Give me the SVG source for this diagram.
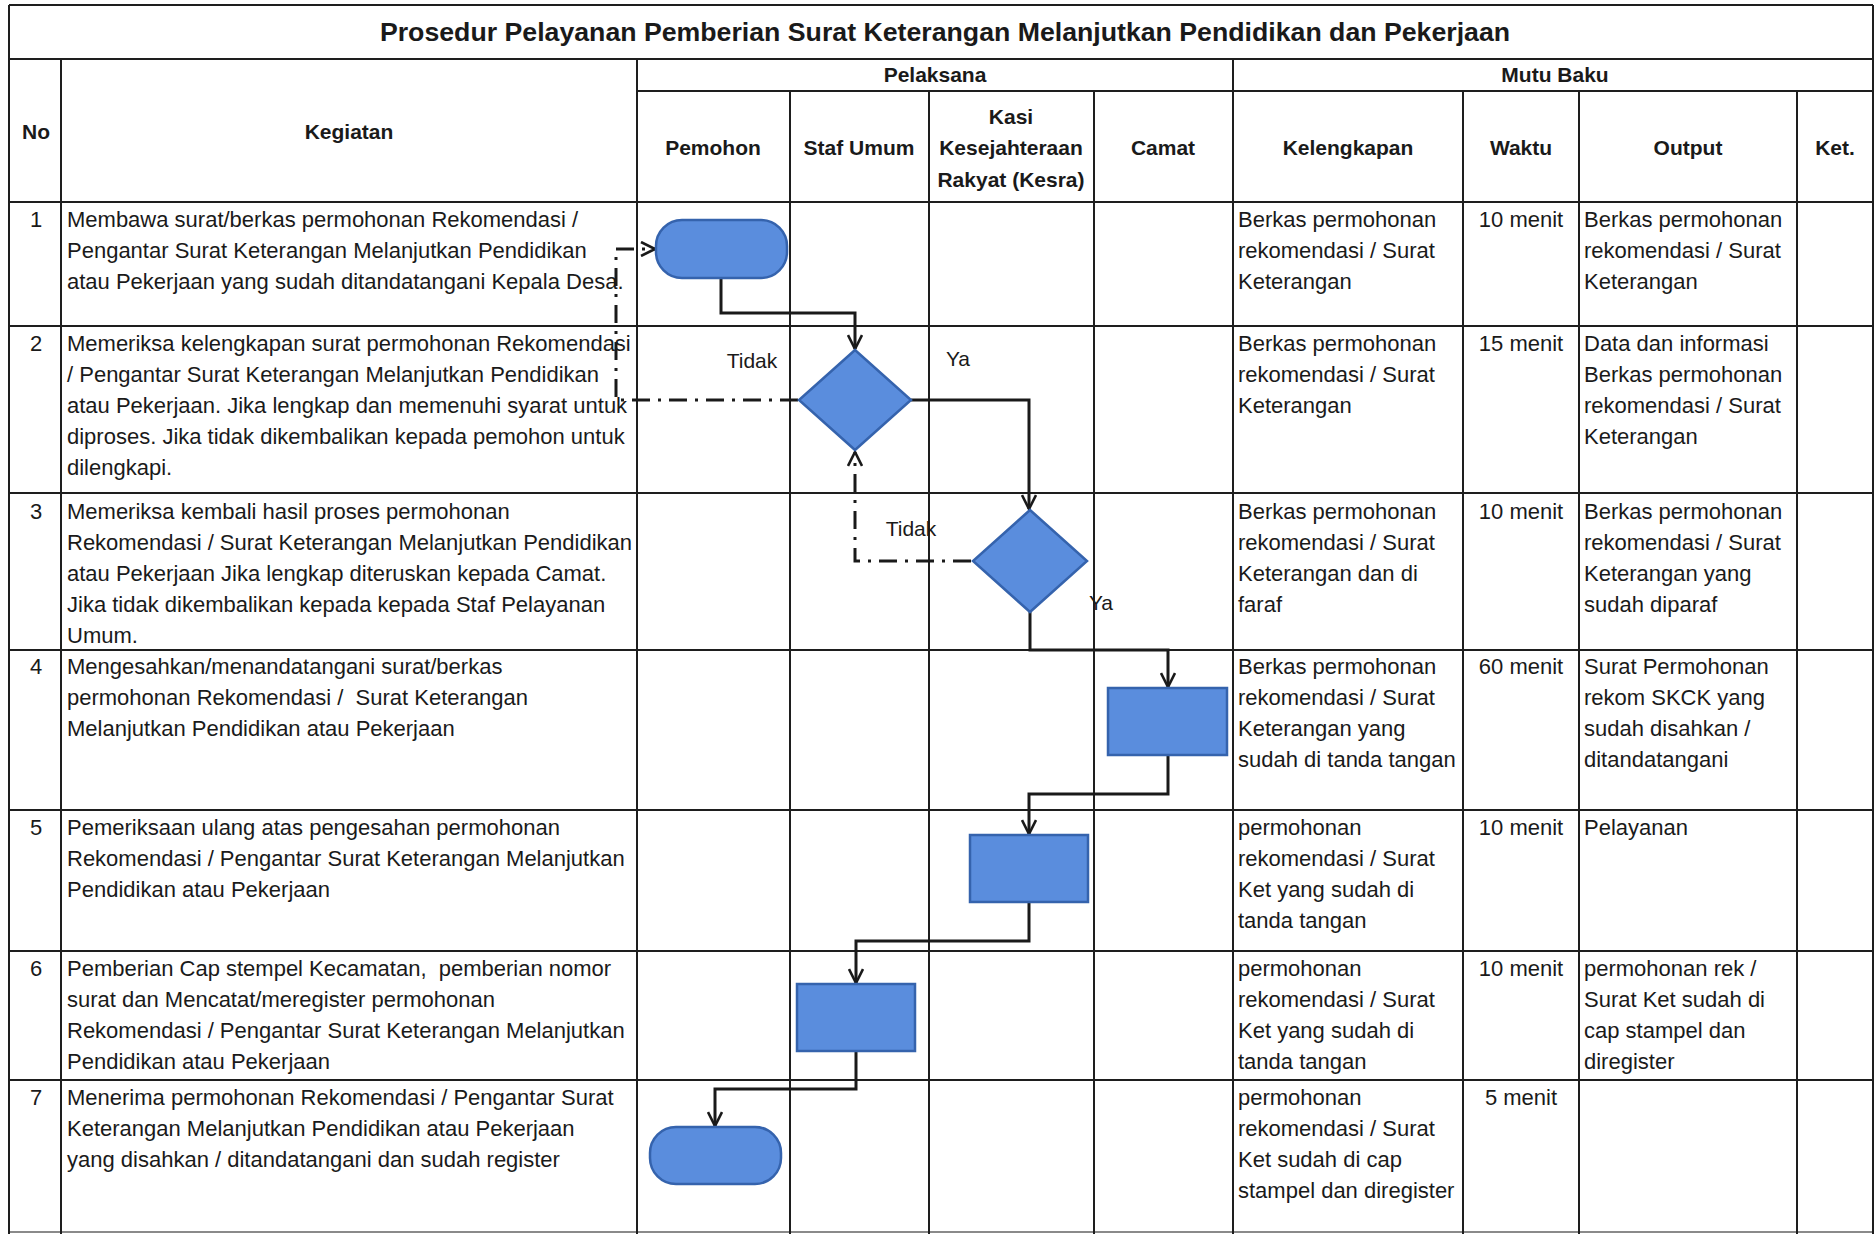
<svg xmlns="http://www.w3.org/2000/svg" width="1876" height="1234" viewBox="0 0 1876 1234">
<style>
.g line{stroke:#1e1e1e;stroke-width:2}
text{font-family:"Liberation Sans",Arial,sans-serif;fill:#1a1a1a}
.t{font-size:22px}
.c{text-anchor:middle}
.h{font-size:21px;font-weight:bold;text-anchor:middle}
.title{font-size:26.7px;font-weight:bold;text-anchor:middle}
.lbl{font-size:21px}
.shape{fill:#5a8ddd;stroke:#3563ad;stroke-width:2.5}
.conn{fill:none;stroke:#1a1a1a;stroke-width:3}
.dd{stroke-dasharray:18 8 3 8}
</style>
<defs>
<marker id="arr" viewBox="0 0 16 16" refX="15" refY="8" markerWidth="16" markerHeight="16" markerUnits="userSpaceOnUse" orient="auto">
<path d="M1,1 L15,8 L1,15" fill="none" stroke="#1a1a1a" stroke-width="2.6"/>
</marker>
</defs>
<rect width="1876" height="1234" fill="#ffffff"/>
<g id="table" class="g">
<line x1="9" y1="5" x2="1873" y2="5"/>
<line x1="9" y1="59" x2="1873" y2="59"/>
<line x1="637" y1="91" x2="1873" y2="91"/>
<line x1="9" y1="202" x2="1873" y2="202"/>
<line x1="9" y1="326" x2="1873" y2="326"/>
<line x1="9" y1="493" x2="1873" y2="493"/>
<line x1="9" y1="650" x2="1873" y2="650"/>
<line x1="9" y1="810" x2="1873" y2="810"/>
<line x1="9" y1="951" x2="1873" y2="951"/>
<line x1="9" y1="1080" x2="1873" y2="1080"/>
<line x1="9" y1="1232" x2="1873" y2="1232" style="stroke:#8a8a8a"/>
<line x1="9" y1="5" x2="9" y2="1234"/>
<line x1="1873" y1="5" x2="1873" y2="1234"/>
<line x1="61" y1="59" x2="61" y2="1234"/>
<line x1="637" y1="59" x2="637" y2="1234"/>
<line x1="1233" y1="59" x2="1233" y2="1234"/>
<line x1="790" y1="91" x2="790" y2="1234"/>
<line x1="929" y1="91" x2="929" y2="1234"/>
<line x1="1094" y1="91" x2="1094" y2="1234"/>
<line x1="1463" y1="91" x2="1463" y2="1234"/>
<line x1="1579" y1="91" x2="1579" y2="1234"/>
<line x1="1797" y1="91" x2="1797" y2="1234"/>
</g>
<g id="header">
<text class="title" x="945" y="41">Prosedur Pelayanan Pemberian Surat Keterangan Melanjutkan Pendidikan dan Pekerjaan</text>
<text class="h" x="36" y="139">No</text>
<text class="h" x="349" y="139">Kegiatan</text>
<text class="h" x="935" y="82">Pelaksana</text>
<text class="h" x="1555" y="82">Mutu Baku</text>
<text class="h" x="713" y="155">Pemohon</text>
<text class="h" x="859" y="155">Staf Umum</text>
<text class="h" x="1011" y="124">Kasi</text>
<text class="h" x="1011" y="155">Kesejahteraan</text>
<text class="h" x="1011" y="187">Rakyat (Kesra)</text>
<text class="h" x="1163" y="155">Camat</text>
<text class="h" x="1348" y="155">Kelengkapan</text>
<text class="h" x="1521" y="155">Waktu</text>
<text class="h" x="1688" y="155">Output</text>
<text class="h" x="1835" y="155">Ket.</text>
</g>
<g id="row1" class="t">
<text class="t c" x="36" y="227">1</text>
<text class="t" x="67" y="227"><tspan x="67">Membawa surat/berkas permohonan Rekomendasi /</tspan><tspan x="67" dy="31">Pengantar Surat Keterangan Melanjutkan Pendidikan</tspan><tspan x="67" dy="31">atau Pekerjaan yang sudah ditandatangani Kepala Desa.</tspan></text>
<text class="t" x="1238" y="227"><tspan x="1238">Berkas permohonan</tspan><tspan x="1238" dy="31">rekomendasi / Surat</tspan><tspan x="1238" dy="31">Keterangan</tspan></text>
<text class="t c" x="1521" y="227">10 menit</text>
<text class="t" x="1584" y="227"><tspan x="1584">Berkas permohonan</tspan><tspan x="1584" dy="31">rekomendasi / Surat</tspan><tspan x="1584" dy="31">Keterangan</tspan></text>
</g>
<g id="row2">
<text class="t c" x="36" y="351">2</text>
<text class="t" x="67" y="351"><tspan x="67">Memeriksa kelengkapan surat permohonan Rekomendasi</tspan><tspan x="67" dy="31">/ Pengantar Surat Keterangan Melanjutkan Pendidikan</tspan><tspan x="67" dy="31">atau Pekerjaan. Jika lengkap dan memenuhi syarat untuk</tspan><tspan x="67" dy="31">diproses. Jika tidak dikembalikan kepada pemohon untuk</tspan><tspan x="67" dy="31">dilengkapi.</tspan></text>
<text class="t" x="1238" y="351"><tspan x="1238">Berkas permohonan</tspan><tspan x="1238" dy="31">rekomendasi / Surat</tspan><tspan x="1238" dy="31">Keterangan</tspan></text>
<text class="t c" x="1521" y="351">15 menit</text>
<text class="t" x="1584" y="351"><tspan x="1584">Data dan informasi</tspan><tspan x="1584" dy="31">Berkas permohonan</tspan><tspan x="1584" dy="31">rekomendasi / Surat</tspan><tspan x="1584" dy="31">Keterangan</tspan></text>
</g>
<g id="row3">
<text class="t c" x="36" y="519">3</text>
<text class="t" x="67" y="519"><tspan x="67">Memeriksa kembali hasil proses permohonan</tspan><tspan x="67" dy="31">Rekomendasi / Surat Keterangan Melanjutkan Pendidikan</tspan><tspan x="67" dy="31">atau Pekerjaan Jika lengkap diteruskan kepada Camat.</tspan><tspan x="67" dy="31">Jika tidak dikembalikan kepada kepada Staf Pelayanan</tspan><tspan x="67" dy="31">Umum.</tspan></text>
<text class="t" x="1238" y="519"><tspan x="1238">Berkas permohonan</tspan><tspan x="1238" dy="31">rekomendasi / Surat</tspan><tspan x="1238" dy="31">Keterangan dan di</tspan><tspan x="1238" dy="31">faraf</tspan></text>
<text class="t c" x="1521" y="519">10 menit</text>
<text class="t" x="1584" y="519"><tspan x="1584">Berkas permohonan</tspan><tspan x="1584" dy="31">rekomendasi / Surat</tspan><tspan x="1584" dy="31">Keterangan yang</tspan><tspan x="1584" dy="31">sudah diparaf</tspan></text>
</g>
<g id="row4">
<text class="t c" x="36" y="674">4</text>
<text class="t" x="67" y="674" xml:space="preserve"><tspan x="67">Mengesahkan/menandatangani surat/berkas</tspan><tspan x="67" dy="31">permohonan Rekomendasi /  Surat Keterangan</tspan><tspan x="67" dy="31">Melanjutkan Pendidikan atau Pekerjaan</tspan></text>
<text class="t" x="1238" y="674"><tspan x="1238">Berkas permohonan</tspan><tspan x="1238" dy="31">rekomendasi / Surat</tspan><tspan x="1238" dy="31">Keterangan yang</tspan><tspan x="1238" dy="31">sudah di tanda tangan</tspan></text>
<text class="t c" x="1521" y="674">60 menit</text>
<text class="t" x="1584" y="674"><tspan x="1584">Surat Permohonan</tspan><tspan x="1584" dy="31">rekom SKCK yang</tspan><tspan x="1584" dy="31">sudah disahkan /</tspan><tspan x="1584" dy="31">ditandatangani</tspan></text>
</g>
<g id="row5">
<text class="t c" x="36" y="835">5</text>
<text class="t" x="67" y="835"><tspan x="67">Pemeriksaan ulang atas pengesahan permohonan</tspan><tspan x="67" dy="31">Rekomendasi / Pengantar Surat Keterangan Melanjutkan</tspan><tspan x="67" dy="31">Pendidikan atau Pekerjaan</tspan></text>
<text class="t" x="1238" y="835"><tspan x="1238">permohonan</tspan><tspan x="1238" dy="31">rekomendasi / Surat</tspan><tspan x="1238" dy="31">Ket yang sudah di</tspan><tspan x="1238" dy="31">tanda tangan</tspan></text>
<text class="t c" x="1521" y="835">10 menit</text>
<text class="t" x="1584" y="835">Pelayanan</text>
</g>
<g id="row6">
<text class="t c" x="36" y="976">6</text>
<text class="t" x="67" y="976" xml:space="preserve"><tspan x="67">Pemberian Cap stempel Kecamatan,  pemberian nomor</tspan><tspan x="67" dy="31">surat dan Mencatat/meregister permohonan</tspan><tspan x="67" dy="31">Rekomendasi / Pengantar Surat Keterangan Melanjutkan</tspan><tspan x="67" dy="31">Pendidikan atau Pekerjaan</tspan></text>
<text class="t" x="1238" y="976"><tspan x="1238">permohonan</tspan><tspan x="1238" dy="31">rekomendasi / Surat</tspan><tspan x="1238" dy="31">Ket yang sudah di</tspan><tspan x="1238" dy="31">tanda tangan</tspan></text>
<text class="t c" x="1521" y="976">10 menit</text>
<text class="t" x="1584" y="976"><tspan x="1584">permohonan rek /</tspan><tspan x="1584" dy="31">Surat Ket sudah di</tspan><tspan x="1584" dy="31">cap stampel dan</tspan><tspan x="1584" dy="31">diregister</tspan></text>
</g>
<g id="row7">
<text class="t c" x="36" y="1105">7</text>
<text class="t" x="67" y="1105"><tspan x="67">Menerima permohonan Rekomendasi / Pengantar Surat</tspan><tspan x="67" dy="31">Keterangan Melanjutkan Pendidikan atau Pekerjaan</tspan><tspan x="67" dy="31">yang disahkan / ditandatangani dan sudah register</tspan></text>
<text class="t" x="1238" y="1105"><tspan x="1238">permohonan</tspan><tspan x="1238" dy="31">rekomendasi / Surat</tspan><tspan x="1238" dy="31">Ket sudah di cap</tspan><tspan x="1238" dy="31">stampel dan diregister</tspan></text>
<text class="t c" x="1521" y="1105">5 menit</text>
</g>
<g id="connectors">
<path class="conn" d="M721,278 V313 H855 V349" marker-end="url(#arr)"/>
<path class="conn" d="M911,400 H1029 V509" marker-end="url(#arr)"/>
<path class="conn dd" d="M798,400 H616 V249 H655" marker-end="url(#arr)"/>
<path class="conn dd" d="M971,561 H855 V452" marker-end="url(#arr)"/>
<path class="conn" d="M1030,612 V650 H1168 V687" marker-end="url(#arr)"/>
<path class="conn" d="M1168,756 V794 H1029 V834" marker-end="url(#arr)"/>
<path class="conn" d="M1029,902 V941 H856 V983" marker-end="url(#arr)"/>
<path class="conn" d="M856,1051 V1089 H715 V1126" marker-end="url(#arr)"/>
<text class="lbl c" x="752" y="368">Tidak</text>
<text class="lbl c" x="958" y="366">Ya</text>
<text class="lbl c" x="911" y="536">Tidak</text>
<text class="lbl c" x="1101" y="610">Ya</text>
</g>
<g id="node-start"><rect class="shape" x="656" y="220" width="131" height="58" rx="26"/></g>
<g id="node-check1"><polygon class="shape" points="855,350 911,400 855,450 799,400"/></g>
<g id="node-check2"><polygon class="shape" points="1030,510 1087,561 1030,612 973,561"/></g>
<g id="node-camat"><rect class="shape" x="1108" y="688" width="119" height="67"/></g>
<g id="node-kesra"><rect class="shape" x="970" y="835" width="118" height="67"/></g>
<g id="node-staf"><rect class="shape" x="797" y="984" width="118" height="67"/></g>
<g id="node-end"><rect class="shape" x="650" y="1127" width="131" height="57" rx="26"/></g>
</svg>
